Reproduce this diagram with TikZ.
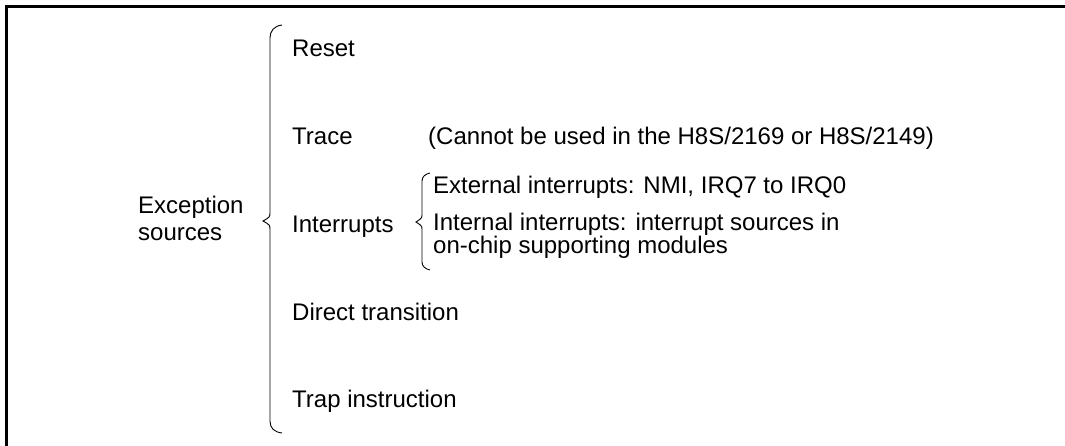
\documentclass[tikz,border=0pt]{standalone}
\usepackage{fontspec}
\setmainfont{Liberation Sans}
\tikzset{
  lbl/.style={anchor=base west, inner sep=0pt, font=\fontsize{24}{26.5}\selectfont},
  frame/.style={line width=3pt, line cap=rect},
  brc/.style={line width=0.9pt}
}
\begin{document}
\begin{tikzpicture}[x=1pt,y=-1pt]
\useasboundingbox (0,0) rectangle (1065,446);
\draw[frame] (6,446) -- (6,7) -- (1065,7);
% main brace
\draw[brc] (282,25) .. controls (274,26) and (270,31) .. (270,38) -- (270,212)
  .. controls (270,217) .. (263,221) .. controls (270,225) .. (270,230) -- (270,421)
  .. controls (270,428) and (274,432) .. (282,433);
% small brace
\draw[brc] (430,173) .. controls (425,174) and (422,177) .. (422,181) -- (422,214)
  .. controls (422,218) .. (416,222) .. controls (422,226) .. (422,230) -- (422,262)
  .. controls (422,266) and (425,269) .. (430,270);
\node[lbl, align=left] (exc) at (138,240.5) {Exception\\sources};
\node[lbl] (reset) at (292,57) {Reset};
\node[lbl] (trace) at (292,145) {Trace};
\node[lbl] (tracenote) at (428,145) {(Cannot be used in the H8S/2169 or H8S/2149)};
\node[lbl] (intr) at (292,232.5) {Interrupts};
\node[lbl] (ext) at (433,193.5) {External interrupts: NMI, IRQ7 to IRQ0};
\node[lbl, align=left, font=\fontsize{24}{23}\selectfont] (int) at (433,253.5) {Internal interrupts: interrupt sources in\\on-chip supporting modules};
\node[lbl] (direct) at (292,320) {Direct transition};
\node[lbl] (trap) at (292,407.5) {Trap instruction};
\end{tikzpicture}
\end{document}
